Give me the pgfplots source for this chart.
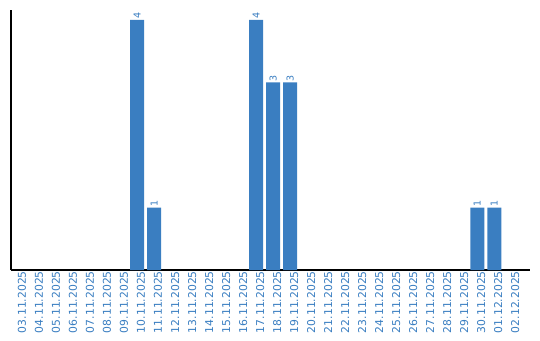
\documentclass[border=0pt]{standalone}
\usepackage{pgfplots}
\pgfplotsset{compat=1.18}
\usepackage{fontspec}
\setmainfont{DejaVu Sans}
\definecolor{barblue}{RGB}{58,126,193}
\begin{document}
\begin{tikzpicture}[x=1pt,y=1pt]
\useasboundingbox (-11,-70) rectangle (529,270);
\begin{axis}[
  at={(0,0)}, anchor=south west,
  scale only axis, width=519pt, height=260pt,
  xmin=-0.41, xmax=30.1, ymin=0, ymax=4.16,
  axis x line*=bottom, axis y line*=left,
  axis line style={black, line width=1.2pt, -},
  ytick=\empty,
  xtick={0,...,29},
  xticklabels={03.11.2025,04.11.2025,05.11.2025,06.11.2025,07.11.2025,08.11.2025,09.11.2025,10.11.2025,11.11.2025,12.11.2025,13.11.2025,14.11.2025,15.11.2025,16.11.2025,17.11.2025,18.11.2025,19.11.2025,20.11.2025,21.11.2025,22.11.2025,23.11.2025,24.11.2025,25.11.2025,26.11.2025,27.11.2025,28.11.2025,29.11.2025,30.11.2025,01.12.2025,02.12.2025},
  major tick length=0,
  xticklabel style={rotate=90, anchor=east, font=\fontsize{10.8}{12}\selectfont, text=barblue, inner sep=1pt, yshift=-4pt},
  ybar, bar width=14pt,
  nodes near coords,
  nodes near coords style={rotate=90, anchor=west, font=\fontsize{9.5}{11}\selectfont, text=barblue, inner sep=1pt, /pgf/number format/assume math mode=true},
]
\addplot[fill=barblue, draw=none] coordinates {(7,4) (8,1) (14,4) (15,3) (16,3) (27,1) (28,1)};
\end{axis}
\end{tikzpicture}
\end{document}
